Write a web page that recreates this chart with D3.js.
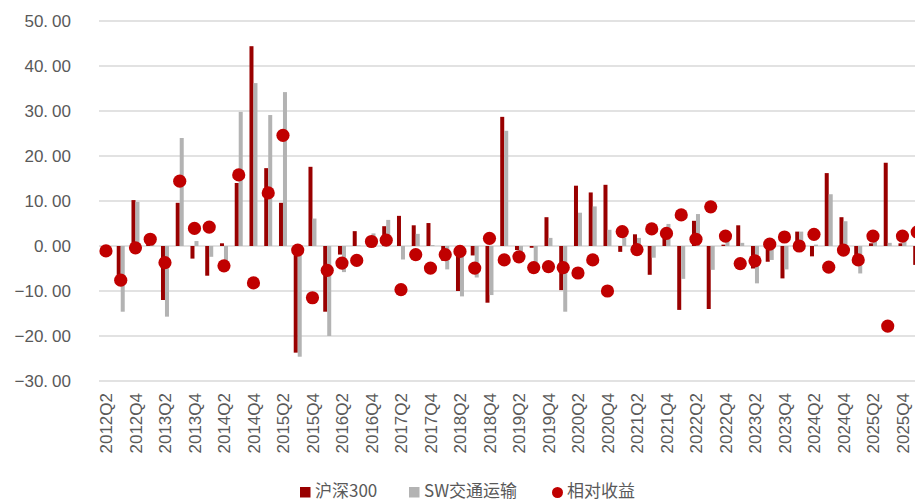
<!DOCTYPE html>
<html>
<head>
<meta charset="utf-8">
<script src="https://cdn.jsdelivr.net/npm/d3@7"></script>
<style>
  html, body { margin: 0; padding: 0; background: #fff; }
  svg { display: block; }
</style>
</head>
<body>
<svg id="chart" width="915" height="501"></svg>
<script>
const quarters = ["2012Q2","2012Q3","2012Q4","2013Q1","2013Q2","2013Q3","2013Q4","2014Q1","2014Q2","2014Q3","2014Q4","2015Q1","2015Q2","2015Q3","2015Q4","2016Q1","2016Q2","2016Q3","2016Q4","2017Q1","2017Q2","2017Q3","2017Q4","2018Q1","2018Q2","2018Q3","2018Q4","2019Q1","2019Q2","2019Q3","2019Q4","2020Q1","2020Q2","2020Q3","2020Q4","2021Q1","2021Q2","2021Q3","2021Q4","2022Q1","2022Q2","2022Q3","2022Q4","2023Q1","2023Q2","2023Q3","2023Q4","2024Q1","2024Q2","2024Q3","2024Q4","2025Q1","2025Q2","2025Q3","2025Q4","2026Q1"];
const hs300 = [-0.3,-7.0,10.2,0.5,-12.0,9.6,-2.8,-6.6,0.6,14.0,44.4,17.3,9.6,-23.7,17.6,-14.6,-1.9,3.3,1.8,4.4,6.7,4.6,5.1,-3.3,-10.0,-2.1,-12.6,28.7,-0.9,-0.4,6.4,-9.8,13.4,11.9,13.6,-1.3,2.6,-6.4,2.1,-14.2,5.6,-14.0,0.3,4.6,-5.0,-3.5,-7.2,3.2,-2.3,16.2,6.4,-3.0,0.6,18.5,0.6,-4.2];
const swTransport = [-1.4,-14.6,9.8,2.0,-15.7,24.0,1.1,-2.4,-3.8,29.8,36.2,29.1,34.2,-24.6,6.1,-20.0,-5.8,0.1,2.8,5.8,-3.0,2.7,0.2,-5.2,-11.2,-7.0,-10.9,25.6,-3.3,-5.2,1.8,-14.6,7.4,8.8,3.6,1.9,1.8,-2.6,4.9,-7.3,7.1,-5.3,2.5,0.7,-8.3,-3.1,-5.2,3.2,0.3,11.5,5.5,-6.1,2.8,0.7,2.8,-1.1];
const relative = [-1.1,-7.6,-0.4,1.5,-3.7,14.4,3.9,4.2,-4.4,15.8,-8.2,11.8,24.6,-0.9,-11.5,-5.4,-3.8,-3.2,1.0,1.3,-9.7,-1.9,-4.9,-1.9,-1.2,-4.9,1.7,-3.1,-2.4,-4.8,-4.6,-4.8,-6.0,-3.1,-10.0,3.2,-0.8,3.8,2.8,6.9,1.5,8.7,2.2,-3.9,-3.3,0.4,2.0,0.0,2.6,-4.7,-0.9,-3.1,2.2,-17.8,2.2,3.1];
const yTicks = [50,40,30,20,10,0,-10,-20,-30];
const seriesNames = ["沪深300","SW交通运输","相对收益"];

const colors = { red: "#990000", grey: "#b3b3b3", dot: "#c00000", grid: "#d9d9d9", text: "#595959" };

const svg = d3.select("#chart");
const x = d3.scaleBand().domain(quarters).range([98.6, 98.6 + 14.75 * quarters.length]).padding(0);
const y = d3.scaleLinear().domain([-30, 50]).range([381, 21]);
const cx = d => x(d) + x.bandwidth() / 2;

// gridlines
svg.append("g").selectAll("line").data(yTicks).join("line")
  .attr("x1", 99).attr("x2", 915)
  .attr("y1", d => y(d)).attr("y2", d => y(d))
  .attr("stroke", colors.grid).attr("stroke-width", 1.5);

// y labels
const fmt = d3.format(".2f");
const yl = svg.append("g").selectAll("text").data(yTicks).join("text")
  .attr("x", 71).attr("y", d => y(d)).attr("dy", "0.36em")
  .attr("text-anchor", "end")
  .attr("font-family", "Liberation Sans, Arial, sans-serif")
  .attr("font-size", 17).attr("fill", colors.text);
yl.each(function(d) {
  const s = fmt(d).replace("-", "\u2212");
  const parts = s.split(".");
  const t = d3.select(this);
  t.append("tspan").text(parts[0] + ".");
  t.append("tspan").attr("dx", 4).text(parts[1]);
});

// bars
const bw = 4;
svg.append("g").selectAll("rect").data(quarters).join("rect")
  .attr("x", (d) => cx(d) - bw)
  .attr("width", bw)
  .attr("y", (d, i) => y(Math.max(0, hs300[i])))
  .attr("height", (d, i) => Math.abs(y(hs300[i]) - y(0)))
  .attr("fill", colors.red);
svg.append("g").selectAll("rect").data(quarters).join("rect")
  .attr("x", (d) => cx(d))
  .attr("width", bw)
  .attr("y", (d, i) => y(Math.max(0, swTransport[i])))
  .attr("height", (d, i) => Math.abs(y(swTransport[i]) - y(0)))
  .attr("fill", colors.grey);

// dots
svg.append("g").selectAll("circle").data(quarters).join("circle")
  .attr("cx", d => cx(d))
  .attr("cy", (d, i) => y(relative[i]))
  .attr("r", 6.6)
  .attr("fill", colors.dot);

// x labels
svg.append("g").selectAll("text").data(quarters.filter((d, i) => i % 2 === 0)).join("text")
  .attr("transform", d => `translate(${cx(d)},393) rotate(-90)`)
  .attr("text-anchor", "end").attr("dy", "0.36em")
  .attr("font-family", "Liberation Sans, Arial, sans-serif")
  .attr("font-size", 17).attr("fill", colors.text)
  .text(d => d);

// legend
const lg = svg.append("g").attr("font-family", "Noto Sans CJK SC, sans-serif").attr("font-size", 17).attr("fill", colors.text);
lg.append("rect").attr("x", 300).attr("y", 487).attr("width", 10.5).attr("height", 10.5).attr("fill", colors.red);
lg.append("text").attr("x", 315).attr("y", 491).attr("dy", "0.35em").text(seriesNames[0]);
lg.append("rect").attr("x", 409).attr("y", 487).attr("width", 10.5).attr("height", 10.5).attr("fill", colors.grey);
lg.append("text").attr("x", 424).attr("y", 491).attr("dy", "0.35em").text(seriesNames[1]);
lg.append("circle").attr("cx", 557.5).attr("cy", 492.5).attr("r", 5.5).attr("fill", colors.dot);
lg.append("text").attr("x", 567).attr("y", 491).attr("dy", "0.35em").text(seriesNames[2]);
</script>
</body>
</html>
